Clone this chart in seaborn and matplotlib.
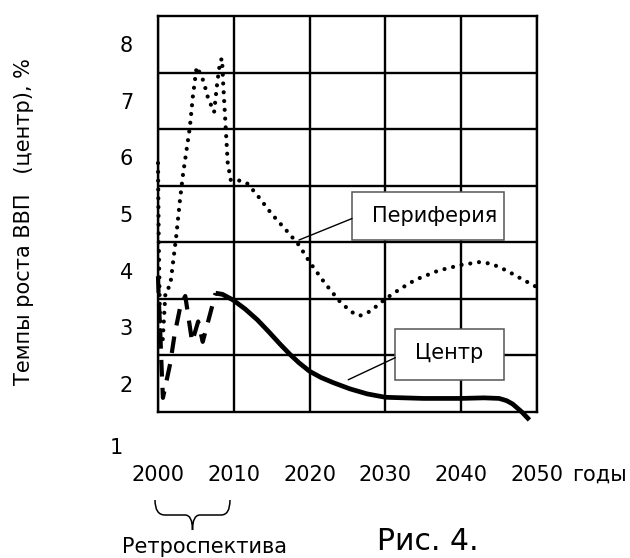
import matplotlib
matplotlib.use("Agg")
import matplotlib.pyplot as plt
import seaborn as sns
import pandas as pd
from matplotlib.patches import Rectangle, PathPatch
from matplotlib.path import Path

# ---------------- data ----------------
years_periphery = [2000.0, 2000.1, 2000.25, 2000.35, 2000.6, 2000.85, 2001.0, 2001.6,
                   2002.4, 2002.9, 2003.3, 2004.2, 2004.6, 2005.1, 2005.5, 2006.0,
                   2006.6, 2007.4, 2007.8, 2008.2, 2008.45, 2008.6, 2008.9, 2009.2,
                   2009.6, 2010.5, 2011.7, 2013.0, 2015.0, 2017.0, 2018.6, 2020.0,
                   2022.0, 2024.0, 2025.5, 2026.6, 2028.0, 2030.0, 2032.0, 2034.0,
                   2037.0, 2040.0, 2042.4, 2044.0, 2046.0, 2048.0, 2049.8]
periphery = [5.9, 4.5, 3.2, 2.75, 2.72, 3.3, 3.65, 3.72,
             4.6, 5.25, 5.7, 6.53, 7.08, 7.6, 7.5, 7.35,
             7.05, 6.8, 7.3, 7.7, 7.75, 7.3, 6.6, 5.9,
             5.6, 5.6, 5.55, 5.35, 5.0, 4.7, 4.45, 4.15,
             3.78, 3.45, 3.27, 3.2, 3.28, 3.5, 3.68, 3.84,
             4.0, 4.1, 4.15, 4.12, 4.0, 3.85, 3.72]

years_center_retro = [2000.0, 2000.1, 2000.3, 2000.5, 2000.65, 2001.6, 2002.2, 2003.0,
                      2003.6, 2004.5, 2005.3, 2005.9, 2007.6]
center_retro = [3.9, 3.5, 2.9, 2.2, 1.75, 2.35, 2.88, 3.4,
                3.55, 2.74, 3.1, 2.74, 3.6]

years_center_forecast = [2007.6, 2008.5, 2009.9, 2011.5, 2013.1, 2014.6, 2016.1, 2017.4,
                         2018.6, 2020.0, 2021.5, 2023.1, 2025.3, 2027.6, 2030.0, 2035.0,
                         2040.0, 2043.0, 2045.0, 2046.0, 2046.8, 2048.0, 2049.0]
center_forecast = [3.6, 3.58, 3.48, 3.32, 3.13, 2.92, 2.70, 2.52,
                   2.37, 2.22, 2.11, 2.02, 1.91, 1.82, 1.76, 1.74,
                   1.74, 1.75, 1.74, 1.7, 1.64, 1.5, 1.36]

x_ticks = [2000, 2010, 2020, 2030, 2040, 2050]
x_tick_labels = ["2000", "2010", "2020", "2030", "2040", "2050"]
y_ticks = [2, 3, 4, 5, 6, 7, 8]
y_tick_labels = ["2", "3", "4", "5", "6", "7", "8"]
y_grid = [2.5, 3.5, 4.5, 5.5, 6.5, 7.5]

y_label = "Темпы роста ВВП   (центр), %"
x_unit = "годы"
label_periphery = "Периферия"
label_center = "Центр"
retro_label = "Ретроспектива"
fig_caption = "Рис. 4."

# ---------------- figure ----------------
sns.set_style("white")
plt.rcParams["font.family"] = ["DejaVu Sans"]
plt.rcParams["text.color"] = "black"
plt.rcParams["xtick.color"] = "black"
plt.rcParams["ytick.color"] = "black"
plt.rcParams["xtick.labelcolor"] = "black"
plt.rcParams["ytick.labelcolor"] = "black"
FS = 15

W, H = 630, 558
fig = plt.figure(figsize=(W / 100, H / 100), dpi=100)
L, R, T, B = 158, 537, 16, 412
ax = fig.add_axes([L / W, 1 - B / H, (R - L) / W, (B - T) / H])


def fx(px):
    return px / W


def fy(py):
    return 1 - py / H


df_p = pd.DataFrame({"year": years_periphery, "val": periphery})
df_cr = pd.DataFrame({"year": years_center_retro, "val": center_retro})
df_cf = pd.DataFrame({"year": years_center_forecast, "val": center_forecast})

sns.lineplot(data=df_p, x="year", y="val", ax=ax, color="black", linewidth=3.0,
             linestyle=(0, (0.01, 2.1)), dash_capstyle="round", sort=False,
             estimator=None, clip_on=False, zorder=3)
sns.lineplot(data=df_cr, x="year", y="val", ax=ax, color="black", linewidth=3.0,
             linestyle=(0, (4.0, 2.7)), sort=False, estimator=None,
             clip_on=False, zorder=3)
sns.lineplot(data=df_cf, x="year", y="val", ax=ax, color="black", linewidth=3.4,
             sort=False, estimator=None, clip_on=False, zorder=3,
             solid_capstyle="butt", solid_joinstyle="round")

ax.set_xlim(2000, 2050)
ax.set_ylim(1.5, 8.5)
ax.set_xticks(x_ticks)
ax.set_xticklabels(x_tick_labels, fontsize=FS)
ax.set_yticks(y_ticks)
ax.set_yticklabels(y_tick_labels, fontsize=FS)
ax.set_yticks(y_grid, minor=True)
ax.tick_params(axis="both", which="both", length=0)
ax.tick_params(axis="x", pad=38)
ax.tick_params(axis="y", pad=18)
ax.set_xlabel("")
ax.set_ylabel("")
ax.set_axisbelow(True)
ax.grid(True, axis="x", which="major", color="black", linewidth=1.7)
ax.grid(True, axis="y", which="minor", color="black", linewidth=1.7)
ax.grid(False, axis="y", which="major")
for s in ax.spines.values():
    s.set_visible(True)
    s.set_color("black")
    s.set_linewidth(1.7)

# the lone "1" below the frame
ax.text(-0.111, 0.86, "1", transform=ax.get_yaxis_transform(), ha="center",
        va="center", fontsize=FS, color="black")

# labelled boxes
box_edge = "#555555"
ax.add_patch(Rectangle((2025.6, 4.54), 20.0, 0.85, facecolor="white",
                       edgecolor=box_edge, linewidth=1.1, zorder=4))
ax.text(2036.5, 4.96, label_periphery, ha="center", va="center", fontsize=FS,
        color="black", zorder=5)
ax.annotate("", xy=(2018.6, 4.54), xytext=(2025.6, 4.92),
            arrowprops=dict(arrowstyle="-", color="black", lw=1.0,
                            shrinkA=0, shrinkB=0), zorder=4)

ax.add_patch(Rectangle((2031.3, 2.07), 14.3, 0.9, facecolor="white",
                       edgecolor=box_edge, linewidth=1.1, zorder=4))
ax.text(2038.4, 2.55, label_center, ha="center", va="center", fontsize=FS,
        color="black", zorder=5)
ax.annotate("", xy=(2025.1, 2.07), xytext=(2031.3, 2.46),
            arrowprops=dict(arrowstyle="-", color="black", lw=1.0,
                            shrinkA=0, shrinkB=0), zorder=4)

# axis texts
fig.text(fx(24), fy(222), y_label, rotation=90, ha="center", va="center",
         fontsize=FS, color="black")
fig.text(fx(572), fy(474.5), x_unit, ha="left", va="center", fontsize=FS, color="black")

# brace under 2000-2010
verts = [(155, 500), (155, 515), (165, 515), (185, 515), (192.5, 515), (192.5, 530),
         (192.5, 515), (200, 515), (221, 515), (230, 515), (230, 500)]
codes = [Path.MOVETO, Path.CURVE3, Path.CURVE3, Path.LINETO, Path.CURVE3, Path.CURVE3,
         Path.CURVE3, Path.CURVE3, Path.LINETO, Path.CURVE3, Path.CURVE3]
brace = Path([(fx(x), fy(y)) for x, y in verts], codes)
fig.patches.append(PathPatch(brace, transform=fig.transFigure, facecolor="none",
                             edgecolor="black", linewidth=1.1))

fig.text(fx(205), fy(547), retro_label, ha="center", va="center", fontsize=FS,
         color="black")
fig.text(fx(428), fy(541), fig_caption, ha="center", va="center", fontsize=21.5,
         color="black")

fig.savefig("out.png", dpi=100, facecolor="white")
